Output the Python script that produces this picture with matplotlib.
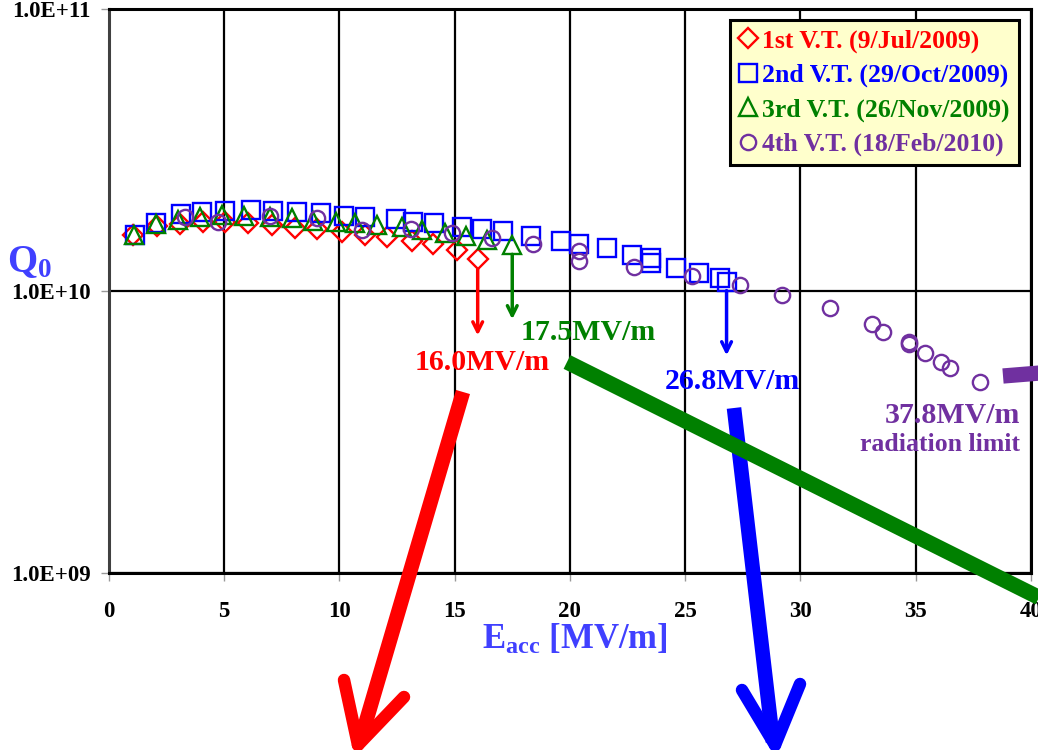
import matplotlib
matplotlib.use("Agg")
import matplotlib.pyplot as plt
from matplotlib.lines import Line2D

plt.rcParams['font.family'] = ['Liberation Serif', 'DejaVu Serif']
plt.rcParams['font.weight'] = 'bold'
plt.rcParams['mathtext.fontset'] = 'custom'
plt.rcParams['mathtext.rm'] = 'Liberation Serif:bold'
plt.rcParams['mathtext.it'] = 'Liberation Serif:bold'
plt.rcParams['mathtext.bf'] = 'Liberation Serif:bold'

# ---- data ----
e1 = [1.04, 2.08, 3.08, 4.08, 5.03, 6.03, 7.07, 8.07, 9.02, 10.1, 11.1, 12.06, 13.15, 14.06, 15.1, 16.0]
q1 = [1.58e10, 1.70e10, 1.73e10, 1.76e10, 1.76e10, 1.74e10, 1.72e10, 1.67e10, 1.66e10, 1.62e10,
      1.58e10, 1.55e10, 1.50e10, 1.47e10, 1.40e10, 1.30e10]

e2 = [1.13, 2.04, 3.12, 4.03, 5.03, 6.16, 7.11, 8.16, 9.2, 10.2, 11.1, 12.45, 13.19, 14.1, 15.3,
      16.2, 17.1, 18.3, 19.6, 20.4, 21.6, 22.7, 23.5, 23.5, 24.6, 25.6, 26.5, 26.8]
q2 = [1.58e10, 1.74e10, 1.87e10, 1.91e10, 1.92e10, 1.94e10, 1.92e10, 1.91e10, 1.89e10, 1.85e10,
      1.83e10, 1.80e10, 1.76e10, 1.74e10, 1.69e10, 1.66e10, 1.63e10, 1.57e10, 1.50e10, 1.47e10,
      1.42e10, 1.34e10, 1.31e10, 1.26e10, 1.21e10, 1.16e10, 1.11e10, 1.08e10]

e3 = [1.08, 2.04, 3.0, 3.95, 4.9, 5.86, 6.98, 7.94, 8.85, 9.85, 10.67, 11.63, 12.7, 13.6, 14.6,
      15.5, 16.4, 17.5]
q3 = [1.58e10, 1.73e10, 1.79e10, 1.83e10, 1.86e10, 1.85e10, 1.83e10, 1.82e10, 1.77e10, 1.76e10,
      1.74e10, 1.72e10, 1.68e10, 1.65e10, 1.61e10, 1.57e10, 1.52e10, 1.45e10]

e4 = [3.3, 4.73, 6.98, 9.02, 11.0, 13.1, 14.9, 16.6, 18.4, 20.4, 20.4, 22.8, 25.3, 27.4, 29.2,
      31.3, 33.1, 33.6, 34.7, 34.7, 35.4, 36.1, 36.5, 37.8]
q4 = [1.83e10, 1.76e10, 1.85e10, 1.82e10, 1.64e10, 1.66e10, 1.61e10, 1.54e10, 1.47e10, 1.39e10,
      1.28e10, 1.22e10, 1.13e10, 1.05e10, 9.65e9, 8.67e9, 7.64e9, 7.16e9, 6.60e9, 6.49e9,
      6.03e9, 5.60e9, 5.33e9, 4.75e9]

labels = ["1st V.T. (9/Jul/2009)", "2nd V.T. (29/Oct/2009)",
          "3rd V.T. (26/Nov/2009)", "4th V.T. (18/Feb/2010)"]
x_ticks = [0, 5, 10, 15, 20, 25, 30, 35, 40]
y_ticks = [1e9, 1e10, 1e11]
y_tick_labels = ["1.0E+09", "1.0E+10", "1.0E+11"]

RED, BLUE, GREEN, PURPLE = '#FF0000', '#0000FF', '#008000', '#7030A0'
LBLUE = '#4040FF'

fig = plt.figure(figsize=(10.38, 7.5), dpi=100)
ax = fig.add_axes([0.105, 0.236, 0.888, 0.752])
ax.set_yscale('log')
ax.set_xlim(0, 40)
ax.set_ylim(1e9, 1e11)

mkw = dict(linestyle='none', markerfacecolor='none', markeredgewidth=1.7)
ax.plot(e1, q1, marker='D', ms=10, markeredgecolor=RED, **mkw, zorder=3)
ax.plot(e2, q2, marker='s', ms=12.5, markeredgecolor=BLUE, **mkw, zorder=3)
ax.plot(e3, q3, marker='^', ms=12.5, markeredgecolor=GREEN, **mkw, zorder=4)
ax.plot(e4, q4, marker='o', ms=11, markeredgecolor=PURPLE, **mkw, zorder=4)

ax.set_xticks(x_ticks)
ax.set_yticks(y_ticks)
ax.set_yticklabels(y_tick_labels)
ax.minorticks_off()
ax.tick_params(axis='both', which='major', length=6, width=1, color='#999999',
               labelsize=16.5)
ax.tick_params(axis='x', pad=14)
ax.tick_params(axis='y', pad=7)
ax.grid(True, which='major', color='black', lw=1.6)
for s in ax.spines.values():
    s.set_linewidth(2.2)
    s.set_color('black')
ax.spines['left'].set_color('#404040')

fig.text(0.028, 0.65, r'Q$_{0}$', color=LBLUE, fontsize=28, ha='center', va='center')
fig.text(0.554, 0.147, r'E$_{\mathrm{acc}}$ [MV/m]', color=LBLUE, fontsize=25,
         ha='center', va='center')

# legend
handles = [
    Line2D([], [], marker='D', ms=10, markeredgecolor=RED, **mkw),
    Line2D([], [], marker='s', ms=13, markeredgecolor=BLUE, **mkw),
    Line2D([], [], marker='^', ms=13, markeredgecolor=GREEN, **mkw),
    Line2D([], [], marker='o', ms=11, markeredgecolor=PURPLE, **mkw),
]
leg = ax.legend(handles, labels, loc='upper right', bbox_to_anchor=(0.987, 0.980),
                fontsize=18.5, frameon=True, fancybox=False, facecolor='#FFFFCC',
                edgecolor='black', framealpha=1, handlelength=0.7, handletextpad=0.2,
                borderpad=0.35, labelspacing=0.43, borderaxespad=0)
leg.get_frame().set_linewidth(2.2)
for t, c in zip(leg.get_texts(), [RED, BLUE, GREEN, PURPLE]):
    t.set_color(c)
leg.set_zorder(10)

# small arrows from the last points
akw = dict(arrowstyle='->,head_width=0.35,head_length=0.7', lw=2.5)
ax.annotate('', xy=(16.0, 6.8e9), xytext=(16.0, 1.22e10),
            arrowprops=dict(color=RED, **akw))
ax.annotate('', xy=(17.5, 7.76e9), xytext=(17.5, 1.38e10),
            arrowprops=dict(color=GREEN, **akw))
ax.annotate('', xy=(26.8, 5.78e9), xytext=(26.8, 1.026e10),
            arrowprops=dict(color=BLUE, **akw))

ax.text(16.2, 5.6e9, '16.0MV/m', color=RED, fontsize=21.5, ha='center', va='center')
ax.text(20.8, 7.1e9, '17.5MV/m', color=GREEN, fontsize=21.5, ha='center', va='center')
ax.text(27.07, 4.76e9, '26.8MV/m', color=BLUE, fontsize=21.5, ha='center', va='center')
ax.text(36.6, 3.63e9, '37.8MV/m', color=PURPLE, fontsize=21.5, ha='center', va='center',
        clip_on=False)
ax.text(36.05, 2.85e9, 'radiation limit', color=PURPLE, fontsize=18.5, ha='center',
        va='center', clip_on=False)

# big overlay arrows (slide drawings), in figure pixel fractions
W, H = 1038.0, 750.0
def fl(x0, y0, x1, y1, color, lw, cap='butt'):
    fig.add_artist(Line2D([x0 / W, x1 / W], [1 - y0 / H, 1 - y1 / H], color=color,
                          lw=lw, solid_capstyle=cap, transform=fig.transFigure, zorder=20))

fl(463, 392, 360, 742, RED, 10.5)
fl(344, 680, 358, 745, RED, 9, 'round')
fl(404, 697, 358, 745, RED, 9, 'round')
fl(734, 408, 773, 742, BLUE, 10.5)
fl(742, 690, 775, 745, BLUE, 9, 'round')
fl(800, 684, 775, 745, BLUE, 9, 'round')
fl(567, 362, 1040, 598, GREEN, 11)
fl(1003, 376, 1040, 373, PURPLE, 11)

fig.savefig('out.png', dpi=100)
